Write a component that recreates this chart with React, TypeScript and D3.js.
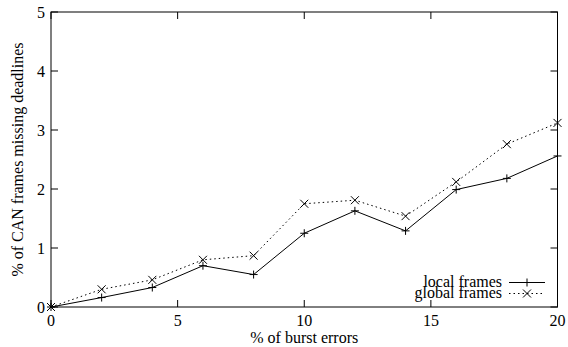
import React from "react";
import * as d3 from "d3";

// % of burst errors
const burstErrors = [0, 2, 4, 6, 8, 10, 12, 14, 16, 18, 20];
// % of CAN frames missing deadlines
const localFrames = [0, 0.16, 0.33, 0.70, 0.55, 1.25, 1.63, 1.29, 1.99, 2.18, 2.56];
const globalFrames = [0, 0.30, 0.46, 0.80, 0.87, 1.75, 1.81, 1.54, 2.12, 2.76, 3.12];

const xTicks = [0, 5, 10, 15, 20];
const yTicks = [0, 1, 2, 3, 4, 5];

const seriesNames = ["local frames", "global frames"];

const W = 568;
const H = 347;
const margin = { top: 12, right: 10.5, bottom: 40, left: 51 };
const FONT = "'Liberation Serif', 'Times New Roman', serif";

export default function App() {
	const x = d3.scaleLinear().domain( [ 0, 20 ] ).range( [ margin.left, W - margin.right ] );
	const y = d3.scaleLinear().domain( [ 0, 5 ] ).range( [ H - margin.bottom, margin.top ] );

	const line = d3.line<number>()
		.x( ( d, i ) => x( burstErrors[ i ] ) )
		.y( d => y( d ) );

	const x0 = x.range()[ 0 ], x1 = x.range()[ 1 ];
	const y0 = y.range()[ 0 ], y1 = y.range()[ 1 ];
	const tick = 7;

	const plus = ( cx: number, cy: number, key: string ) => (
		<path key={ key } d={ `M${ cx - 4 },${ cy }H${ cx + 4 }M${ cx },${ cy - 4 }V${ cy + 4 }` } stroke="#000" strokeWidth={ 1 } fill="none" />
	);
	const cross = ( cx: number, cy: number, key: string ) => (
		<path key={ key } d={ `M${ cx - 4 },${ cy - 4 }L${ cx + 4 },${ cy + 4 }M${ cx - 4 },${ cy + 4 }L${ cx + 4 },${ cy - 4 }` } stroke="#000" strokeWidth={ 1 } fill="none" />
	);

	const legX = 509, legX2 = 545, legMid = 527;
	const legY = [ 282.5, 293.5 ];

	return (
		<svg width={ W } height={ H } style={ { position: "absolute", left: 0, top: 0, background: "#fff" } } fontFamily={ FONT }>
			<rect x={ 0 } y={ 0 } width={ W } height={ H } fill="#fff" />

			{/* ticks, mirrored on all four sides */}
			{ xTicks.map( t => (
				<g key={ "xt" + t }>
					<line x1={ x( t ) } x2={ x( t ) } y1={ y0 } y2={ y0 - tick } stroke="#000" />
					<line x1={ x( t ) } x2={ x( t ) } y1={ y1 } y2={ y1 + tick } stroke="#000" />
					<text x={ x( t ) } y={ y0 + 19 } textAnchor="middle" fontSize={ 16 }>{ t }</text>
				</g>
			) ) }
			{ yTicks.map( t => (
				<g key={ "yt" + t }>
					<line x1={ x0 } x2={ x0 + tick } y1={ y( t ) } y2={ y( t ) } stroke="#000" />
					<line x1={ x1 } x2={ x1 - tick } y1={ y( t ) } y2={ y( t ) } stroke="#000" />
					<text x={ x0 - 6 } y={ y( t ) + 5.5 } textAnchor="end" fontSize={ 16 }>{ t }</text>
				</g>
			) ) }

			<rect x={ x0 } y={ y1 } width={ x1 - x0 } height={ y0 - y1 } fill="none" stroke="#000" strokeWidth={ 1 } />

			{/* series */}
			<path d={ line( localFrames ) || "" } fill="none" stroke="#000" strokeWidth={ 1 } />
			<path d={ line( globalFrames ) || "" } fill="none" stroke="#000" strokeWidth={ 1 } strokeDasharray="1.5,3" />
			{ localFrames.map( ( v, i ) => plus( x( burstErrors[ i ] ), y( v ), "p" + i ) ) }
			{ globalFrames.map( ( v, i ) => cross( x( burstErrors[ i ] ), y( v ), "c" + i ) ) }

			{/* legend */}
			<text x={ 502 } y={ legY[ 0 ] + 4.5 } textAnchor="end" fontSize={ 16 }>{ seriesNames[ 0 ] }</text>
			<line x1={ legX } x2={ legX2 } y1={ legY[ 0 ] } y2={ legY[ 0 ] } stroke="#000" />
			{ plus( legMid, legY[ 0 ], "lp" ) }
			<text x={ 502 } y={ legY[ 1 ] + 4.5 } textAnchor="end" fontSize={ 16 }>{ seriesNames[ 1 ] }</text>
			<line x1={ legX } x2={ legX2 } y1={ legY[ 1 ] } y2={ legY[ 1 ] } stroke="#000" strokeDasharray="1.5,3" />
			{ cross( legMid, legY[ 1 ], "lc" ) }

			{/* axis titles */}
			<text x={ ( x0 + x1 ) / 2 } y={ 343 } textAnchor="middle" fontSize={ 16 }>% of burst errors</text>
			<text transform={ `translate(23,${ ( y0 + y1 ) / 2 }) rotate(-90)` } textAnchor="middle" fontSize={ 16 }>% of CAN frames missing deadlines</text>
		</svg>
	);
}
